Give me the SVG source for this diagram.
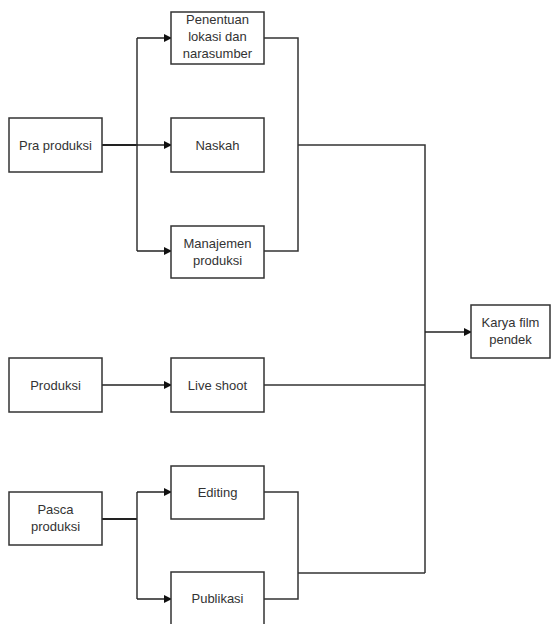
<svg xmlns="http://www.w3.org/2000/svg" width="560" height="624" viewBox="0 0 560 624">
<defs>
<marker id="arr" markerWidth="8" markerHeight="8" refX="7" refY="4" orient="auto" markerUnits="userSpaceOnUse">
<path d="M0,0 L8,4 L0,8 Z" fill="#111"/>
</marker>
<style>
.box{fill:#fff;stroke:#333;stroke-width:1.5}
.t{font-family:"Liberation Sans",Arial,sans-serif;font-size:13px;fill:#333;text-anchor:middle}
.c{fill:none;stroke:#333;stroke-width:1.5}
.ca{fill:none;stroke:#222;stroke-width:1.5;marker-end:url(#arr)}
.thick{fill:none;stroke:#222;stroke-width:2}
</style>
</defs>
<rect width="560" height="624" fill="#fff"/>
<g id="connectors">
<path class="thick" d="M102,145 H137"/>
<path class="c" d="M137,38 V251"/>
<path class="ca" d="M137,38 H171"/>
<path class="ca" d="M137,145 H171"/>
<path class="ca" d="M137,251 H171"/>
<path class="c" d="M264,38 H298 V251 H264"/>
<path class="c" d="M298,145 H425 V573"/>
<path class="ca" d="M425,332 H471"/>
<path class="ca" d="M102,385 H171"/>
<path class="c" d="M264,385 H425"/>
<path class="thick" d="M102,519 H137"/>
<path class="c" d="M137,492 V599"/>
<path class="ca" d="M137,492 H171"/>
<path class="ca" d="M137,599 H171"/>
<path class="c" d="M264,492 H298 V599 H264"/>
<path class="c" d="M298,573 H425"/>
</g>
<g id="pra">
<rect class="box" x="9" y="118" width="93" height="54"/>
<text class="t" x="55.5" y="150">Pra produksi</text>
</g>
<g id="penentuan">
<rect class="box" x="171" y="12" width="93" height="52"/>
<text class="t" x="217.5" y="24">Penentuan</text>
<text class="t" x="217.5" y="41">lokasi dan</text>
<text class="t" x="217.5" y="58">narasumber</text>
</g>
<g id="naskah">
<rect class="box" x="171" y="118" width="93" height="54"/>
<text class="t" x="217.5" y="150">Naskah</text>
</g>
<g id="manajemen">
<rect class="box" x="171" y="226" width="93" height="52"/>
<text class="t" x="217.5" y="248">Manajemen</text>
<text class="t" x="217.5" y="265">produksi</text>
</g>
<g id="produksi">
<rect class="box" x="9" y="358" width="93" height="54"/>
<text class="t" x="55.5" y="390">Produksi</text>
</g>
<g id="liveshoot">
<rect class="box" x="171" y="358" width="93" height="54"/>
<text class="t" x="217.5" y="390">Live shoot</text>
</g>
<g id="pasca">
<rect class="box" x="9" y="492" width="93" height="53"/>
<text class="t" x="55.5" y="514">Pasca</text>
<text class="t" x="55.5" y="531">produksi</text>
</g>
<g id="editing">
<rect class="box" x="171" y="466" width="93" height="53"/>
<text class="t" x="217.5" y="497">Editing</text>
</g>
<g id="publikasi">
<rect class="box" x="171" y="572" width="93" height="54"/>
<text class="t" x="217.5" y="603">Publikasi</text>
</g>
<g id="karya">
<rect class="box" x="471" y="305" width="79" height="53"/>
<text class="t" x="510.5" y="327">Karya film</text>
<text class="t" x="510.5" y="344">pendek</text>
</g>
</svg>
